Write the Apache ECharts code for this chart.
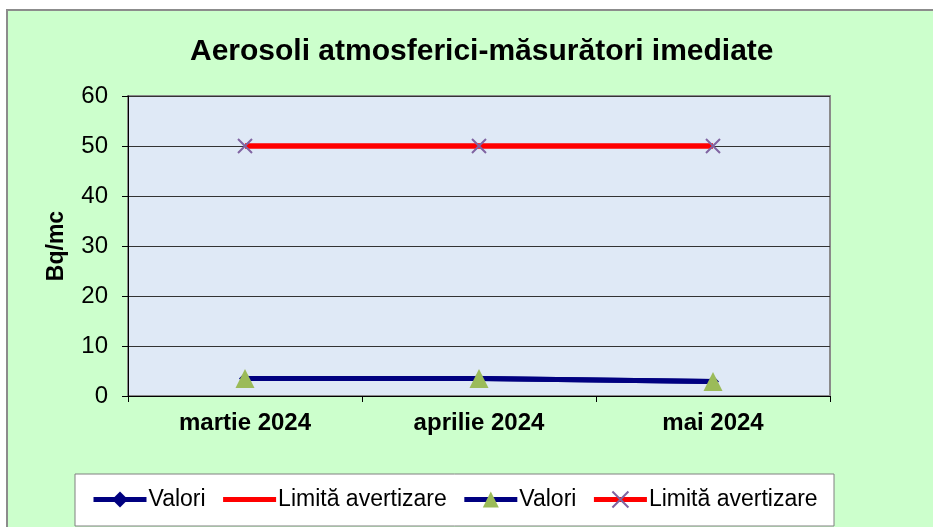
<!DOCTYPE html>
<html>
<head>
<meta charset="utf-8">
<script src="https://cdn.jsdelivr.net/npm/echarts@6/dist/echarts.min.js"></script>
<style>
html,body{margin:0;padding:0;background:#fff}
#main{width:933px;height:527px}
</style>
</head>
<body>
<div id="main"></div>
<script>
// date
var luni = ['martie 2024', 'aprilie 2024', 'mai 2024']
var valori = [3.5, 3.5, 2.9]
var limita = [50, 50, 50]
var yTicks = [0, 10, 20, 30, 40, 50, 60]

var font = 'Arial, "Liberation Sans", sans-serif'
var crossPath = 'path://M0,0L10,10M10,0L0,10'

var myChart = echarts.init(document.getElementById('main'))
myChart.setOption({
	backgroundColor: '#fff',
	animation: false,
	graphic: [
		{type: 'rect', z: -10, shape: {x: 7, y: 10, width: 940, height: 530},
			style: {fill: '#CCFFCC', stroke: '#8c8c8c', lineWidth: 2}},
		{type: 'rect', z: -9, shape: {x: 75, y: 474, width: 759, height: 52},
			style: {fill: '#fff', stroke: '#808080', lineWidth: 1}}
	],
	title: {
		text: 'Aerosoli atmosferici-măsurători imediate',
		left: 185,
		top: 32,
		textStyle: {fontFamily: font, fontSize: 30, fontWeight: 'bold', color: '#000'}
	},
	legend: {
		left: 86,
		top: 483,
		itemWidth: 53,
		itemHeight: 20,
		itemGap: 15,
		formatter: function(n){ return n.trim() },
		lineStyle: {width: 5},
		textStyle: {fontFamily: font, fontSize: 23, color: '#000', padding: [0, 0, 0, -3]},
		data: [
			'Valori',
			{name: 'Limită avertizare', itemStyle: {color: 'transparent', borderColor: 'transparent'}},
			'Valori ',
			'Limită avertizare '
		]
	},
	grid: {
		left: 128, top: 96, right: 103, bottom: 131,
		show: true, backgroundColor: '#dfe9f6', borderColor: '#8a8a8a', borderWidth: 2
	},
	xAxis: {
		type: 'category',
		data: luni,
		boundaryGap: true,
		axisLine: {lineStyle: {color: '#000', width: 1}},
		axisTick: {show: true, length: 6, alignWithLabel: false, lineStyle: {color: '#000'}},
		axisLabel: {fontFamily: font, fontSize: 24, fontWeight: 'bold', color: '#000', margin: 15}
	},
	yAxis: {
		type: 'value',
		min: yTicks[0], max: yTicks[yTicks.length - 1], interval: 10,
		name: 'Bq/mc',
		nameLocation: 'middle',
		nameGap: 60,
		nameTextStyle: {fontFamily: font, fontSize: 23, fontWeight: 'bold', color: '#000'},
		axisLine: {show: true, lineStyle: {color: '#000', width: 1}},
		axisTick: {show: true, length: 6, lineStyle: {color: '#000'}},
		axisLabel: {fontFamily: font, fontSize: 24, color: '#000', margin: 20},
		splitLine: {show: true, lineStyle: {color: '#333', width: 1}}
	},
	series: [
		{
			name: 'Valori', type: 'line', data: valori,
			symbol: 'diamond', symbolSize: 12,
			lineStyle: {color: '#000080', width: 5},
			itemStyle: {color: '#000080'}
		},
		{
			name: 'Limită avertizare', type: 'line', data: limita,
			symbol: 'none',
			lineStyle: {color: '#ff0000', width: 5},
			itemStyle: {color: '#ff0000'}
		},
		{
			name: 'Valori ', type: 'line', data: valori,
			symbol: 'triangle', symbolSize: 19,
			lineStyle: {color: '#000080', width: 5},
			itemStyle: {color: '#9BBB59'}
		},
		{
			name: 'Limită avertizare ', type: 'line', data: limita,
			symbol: crossPath, symbolSize: 14,
			lineStyle: {color: '#ff0000', width: 5},
			itemStyle: {color: 'transparent', borderColor: '#8064A2', borderWidth: 2}
		}
	]
})
</script>
</body>
</html>
